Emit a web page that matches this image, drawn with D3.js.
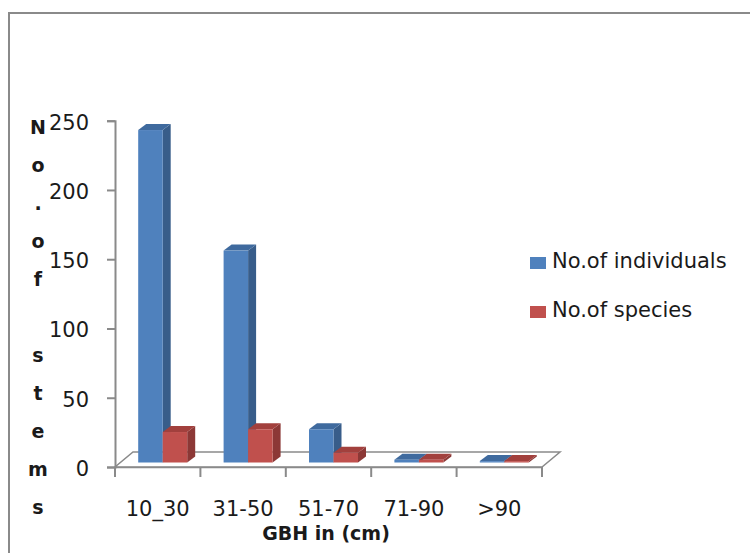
<!DOCTYPE html>
<html>
<head>
<meta charset="utf-8">
<script src="https://cdn.jsdelivr.net/npm/d3@7"></script>
<style>
  body { margin: 0; background: #fff; }
  text { font-family: "DejaVu Sans", sans-serif; fill: #1a1a1a; }
</style>
</head>
<body>
<div class="container"></div>
<script>
const width = 750;
const height = 553;

// data
const categories = ["10_30", "31-50", "51-70", "71-90", ">90"];
const individuals = [240, 153, 24, 2, 1];
const species = [22, 24, 7, 2, 1];
const yTicks = [0, 50, 100, 150, 200, 250];
const seriesNames = ["No.of individuals", "No.of species"];
const yTitle = "No.of stems";
const xTitle = "GBH in (cm)";

const front = { fill: ["#4f81bd", "#c0504d"], side: ["#385d8a", "#8c3836"], top: ["#3f6a9e", "#a2403d"] };

// 3d offsets
const floorDx = 18, floorDy = -15;
const barDx = 8, barDy = -6;
const shiftX = (floorDx - barDx) / 2, shiftY = (floorDy - barDy) / 2;

const svg = d3.select(".container")
    .append("svg")
    .attr("width", width)
    .attr("height", height);

// chart border
svg.append("rect")
    .attr("x", 9).attr("y", 13)
    .attr("width", 760).attr("height", 560)
    .attr("fill", "none")
    .attr("stroke", "#8a8a8a")
    .attr("stroke-width", 2);

const xScale = d3.scaleBand()
    .domain(categories)
    .range([115, 542]);

const yScale = d3.scaleLinear()
    .domain([0, 250])
    .range([467, 120.7]);

const inner = d3.scaleBand()
    .domain([0, 1])
    .range([0, 49]);

// floor
const x0 = xScale.range()[0], x1 = xScale.range()[1], y0 = yScale(0);
svg.append("path")
    .attr("d", `M${x0},${y0} L${x1},${y0} L${x1 + floorDx},${y0 + floorDy} L${x0 + floorDx},${y0 + floorDy} Z`)
    .attr("fill", "#fff")
    .attr("stroke", "#8a8a8a")
    .attr("stroke-width", 1.5);

// y axis
const yAxis = d3.axisLeft(yScale)
    .tickValues(yTicks)
    .tickSize(8)
    .tickPadding(18);

const gy = svg.append("g")
    .attr("transform", `translate(${x0}, 0)`)
    .call(yAxis);
gy.select(".domain").attr("stroke", "#8a8a8a").attr("stroke-width", 2);
gy.selectAll(".tick line").attr("stroke", "#8a8a8a").attr("stroke-width", 2);
gy.selectAll(".tick text")
    .attr("font-size", "21px")
    .attr("font-family", "DejaVu Sans")
    .attr("dy", "0.4em");

// x axis
const xAxis = d3.axisBottom(xScale).tickSize(0).tickPadding(30);
const gx = svg.append("g")
    .attr("transform", `translate(0, ${y0})`)
    .call(xAxis);
gx.select(".domain").attr("stroke", "#8a8a8a").attr("stroke-width", 1.5);
gx.selectAll(".tick text")
    .attr("font-size", "21px")
    .attr("font-family", "DejaVu Sans")
    .attr("dy", "0.71em")
    .attr("y", 34);

// tick marks between categories
gx.selectAll(".sep")
    .data(categories.concat(["end"]))
    .join("line")
    .attr("x1", (d, i) => x0 + i * xScale.bandwidth())
    .attr("x2", (d, i) => x0 + i * xScale.bandwidth())
    .attr("y1", 0).attr("y2", 10)
    .attr("stroke", "#8a8a8a")
    .attr("stroke-width", 2);

// bars
const groupOffset = (xScale.bandwidth() - inner.range()[1]) / 2;
const rows = [];
categories.forEach((c, i) => {
    [individuals[i], species[i]].forEach((v, s) => {
        const bx = xScale(c) + groupOffset + inner(s) + shiftX;
        const by = yScale(v) + shiftY;
        const base = yScale(0) + shiftY;
        rows.push({ bx, by, base, w: inner.bandwidth(), s });
    });
});

const bars = svg.append("g").selectAll("g")
    .data(rows)
    .join("g");

bars.append("path")
    .attr("d", d => `M${d.bx + d.w},${d.base} L${d.bx + d.w + barDx},${d.base + barDy} L${d.bx + d.w + barDx},${d.by + barDy} L${d.bx + d.w},${d.by} Z`)
    .attr("fill", d => front.side[d.s]);

bars.append("path")
    .attr("d", d => `M${d.bx},${d.by} L${d.bx + barDx},${d.by + barDy} L${d.bx + d.w + barDx},${d.by + barDy} L${d.bx + d.w},${d.by} Z`)
    .attr("fill", d => front.top[d.s]);

bars.append("rect")
    .attr("x", d => d.bx)
    .attr("y", d => d.by)
    .attr("width", d => d.w)
    .attr("height", d => d.base - d.by)
    .attr("fill", d => front.fill[d.s]);

// legend
const legend = svg.append("g")
    .selectAll("g")
    .data(seriesNames)
    .join("g")
    .attr("transform", (d, i) => `translate(530, ${257 + i * 49})`);

legend.append("rect")
    .attr("width", 16).attr("height", 12)
    .attr("fill", (d, i) => front.fill[i]);

legend.append("text")
    .attr("x", 22).attr("y", 11)
    .attr("font-size", "21px")
    .text(d => d);

// axis titles
svg.append("g")
    .selectAll("text")
    .data(yTitle.split(""))
    .join("text")
    .attr("x", 38)
    .attr("y", (d, i) => 134 + i * 38)
    .attr("text-anchor", "middle")
    .attr("font-size", "19px")
    .attr("font-weight", "bold")
    .text(d => d);

svg.append("text")
    .attr("x", 326).attr("y", 540)
    .attr("text-anchor", "middle")
    .attr("font-size", "19px")
    .attr("font-weight", "bold")
    .text(xTitle);
</script>
</body>
</html>
